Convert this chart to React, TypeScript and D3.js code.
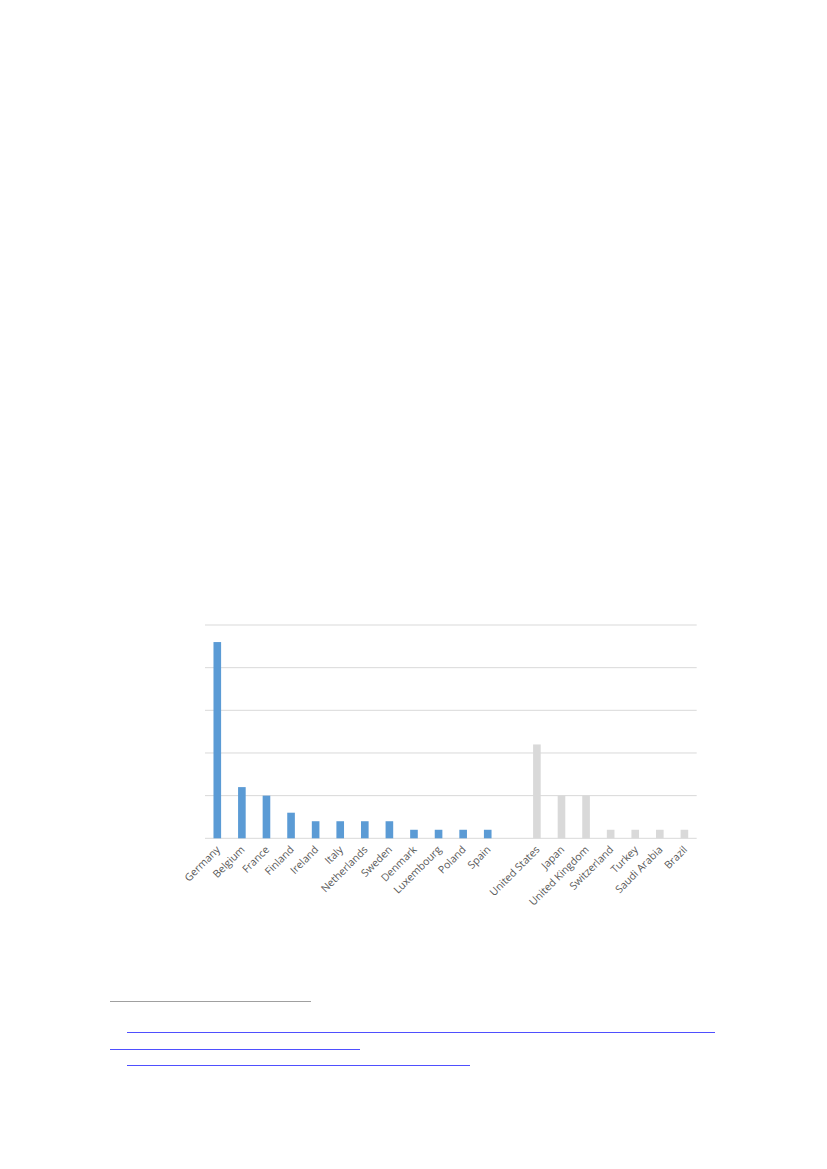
import { useEffect, useRef } from "react";
import * as d3 from "d3";

// categories (an empty slot separates the two groups)
const euCountries = ["Germany", "Belgium", "France", "Finland", "Ireland", "Italy", "Netherlands", "Sweden", "Denmark", "Luxembourg", "Poland", "Spain"];
const euValues = [23, 6, 5, 3, 2, 2, 2, 2, 1, 1, 1, 1];
const otherCountries = ["United States", "Japan", "United Kingdom", "Switzerland", "Turkey", "Saudi Arabia", "Brazil"];
const otherValues = [11, 5, 5, 1, 1, 1, 1];
const yTicks = [0, 5, 10, 15, 20, 25];

type Row = { name: string; value: number; group: "eu" | "other" | "gap" };

export default function App() {
	const ref = useRef<SVGSVGElement>(null);

	useEffect(() => {
		const svg = d3.select(ref.current);
		svg.selectAll("*").remove();

		const rows: Row[] = [
			...euCountries.map((name, i) => ({ name, value: euValues[i], group: "eu" as const })),
			{ name: "__gap__", value: 0, group: "gap" as const },
			...otherCountries.map((name, i) => ({ name, value: otherValues[i], group: "other" as const }))
		];

		const left = 205, right = 696.7, top = 625, bottom = 838.3;

		const x = d3.scaleBand()
			.domain(rows.map(d => d.name))
			.range([left, right])
			.paddingInner(0.69)
			.paddingOuter(0.345);
		const y = d3.scaleLinear().domain([0, 25]).range([bottom, top]);

		// gridlines
		svg.append("g")
			.selectAll("line")
			.data(yTicks)
			.join("line")
			.attr("x1", left)
			.attr("x2", right)
			.attr("y1", d => y(d))
			.attr("y2", d => y(d))
			.attr("stroke", "#d9d9d9")
			.attr("stroke-width", 1);

		// bars
		svg.append("g")
			.selectAll("rect")
			.data(rows.filter(d => d.group !== "gap"))
			.join("rect")
			.attr("x", d => x(d.name)!)
			.attr("width", x.bandwidth())
			.attr("y", d => y(d.value))
			.attr("height", d => y(0) - y(d.value))
			.attr("fill", d => d.group === "eu" ? "#5b9bd5" : "#d9d9d9");

		// rotated category labels
		svg.append("g")
			.selectAll("text")
			.data(rows.filter(d => d.group !== "gap"))
			.join("text")
			.attr("transform", d => {
				const cx = x(d.name)! + x.bandwidth() / 2;
				return `translate(${cx + 3.5},${bottom + 12}) rotate(-45)`;
			})
			.attr("text-anchor", "end")
			.attr("font-family", "'Open Sans', sans-serif")
			.attr("font-size", "10.5px")
			.attr("fill", "#595959")
			.text(d => d.name);

		// footnote rules below the chart
		svg.append("line")
			.attr("x1", 110).attr("x2", 311)
			.attr("y1", 1001.5).attr("y2", 1001.5)
			.attr("stroke", "#a0a0a0").attr("stroke-width", 1);

		const links = [
			{ x1: 127, x2: 715, y: 1032.5 },
			{ x1: 110, x2: 360, y: 1049.5 },
			{ x1: 127, x2: 470, y: 1065.5 }
		];
		svg.append("g")
			.selectAll("line")
			.data(links)
			.join("line")
			.attr("x1", d => d.x1)
			.attr("x2", d => d.x2)
			.attr("y1", d => d.y)
			.attr("y2", d => d.y)
			.attr("stroke", "#4f4fff")
			.attr("stroke-width", 1);
	}, []);

	return (
		<svg
			ref={ref}
			width={827}
			height={1169}
			style={{ position: "absolute", left: 0, top: 0, background: "#fff" }}
		/>
	);
}
